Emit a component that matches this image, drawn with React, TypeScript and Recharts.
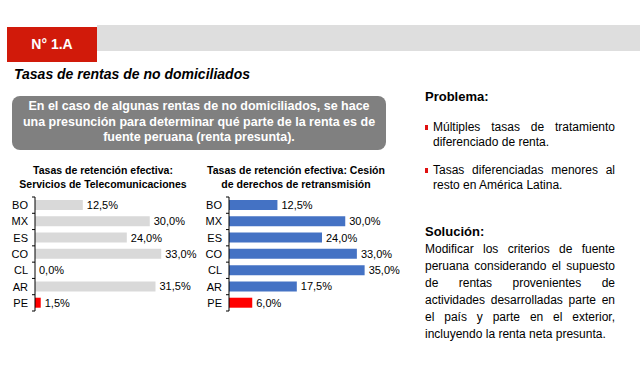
import { BarChart, Bar, XAxis, YAxis, Cell, LabelList } from "recharts";

const countries = ["BO", "MX", "ES", "CO", "CL", "AR", "PE"];
const telecomRates = [12.5, 30.0, 24.0, 33.0, 0.0, 31.5, 1.5];
const retransRates = [12.5, 30.0, 24.0, 33.0, 35.0, 17.5, 6.0];

const telecomData = countries.map((c, i) => ({ pais: c, tasa: telecomRates[i] }));
const retransData = countries.map((c, i) => ({ pais: c, tasa: retransRates[i] }));

const FONT = "'Liberation Sans', Arial, sans-serif";
const ROWS = countries.length;
const PLOT_H = 114;
const BAND = PLOT_H / ROWS;

function pct(v: any) {
  return Number(v).toFixed(1).replace(".", ",") + "%";
}

function CountryTick(props: any) {
  const { x, y, payload, index } = props;
  const ax = x + 7;
  return (
    <g>
      <text x={x} y={y} dy={4} textAnchor="end" fontSize={11} fill="#000" fontFamily={FONT}>
        {payload.value}
      </text>
      <line x1={ax - 3} x2={ax} y1={y - BAND / 2} y2={y - BAND / 2} stroke="#000" />
      {index === ROWS - 1 && (
        <line x1={ax - 3} x2={ax} y1={y + BAND / 2} y2={y + BAND / 2} stroke="#000" />
      )}
    </g>
  );
}

function ValueLabel(props: any) {
  const { x, y, width, height, value } = props;
  return (
    <text
      x={Number(x) + Number(width || 0) + 4}
      y={Number(y) + Number(height) / 2}
      dy={4}
      fontSize={11}
      fill="#000"
      fontFamily={FONT}
    >
      {pct(value)}
    </text>
  );
}

function RateChart({ data, color, axisW, rightM }: any) {
  return (
    <BarChart
      width={210}
      height={124}
      data={data}
      layout="vertical"
      margin={{ top: 6, right: rightM, bottom: 4, left: 0 }}
    >
      <XAxis type="number" domain={[0, 40]} hide />
      <YAxis
        type="category"
        dataKey="pais"
        width={axisW}
        axisLine={{ stroke: "#000" }}
        tickLine={false}
        tickSize={0}
        tickMargin={7}
        tick={<CountryTick />}
        interval={0}
      />
      <Bar dataKey="tasa" barSize={10} minPointSize={0.01} isAnimationActive={false}>
        {data.map((d: any) => (
          <Cell key={d.pais} fill={d.pais === "PE" ? "#ff0000" : color} />
        ))}
        <LabelList dataKey="tasa" content={<ValueLabel />} />
      </Bar>
    </BarChart>
  );
}

function JLine({ children, last }: any) {
  return (
    <div
      style={{
        whiteSpace: "nowrap",
        textAlign: last ? "left" : "justify",
        textAlignLast: last ? "left" : "justify",
      } as any}
    >
      {children}
    </div>
  );
}

export default function App() {
  return (
    <div
      style={{
        position: "absolute",
        left: 0,
        top: 0,
        width: 640,
        height: 368,
        background: "#fff",
        overflow: "hidden",
        fontFamily: FONT,
        color: "#000",
      }}
    >
      <div style={{ position: "absolute", left: 97, top: 25, width: 543, height: 26, background: "#dedede" }} />
      <div
        style={{
          position: "absolute",
          left: 7,
          top: 27,
          width: 90,
          height: 35,
          background: "#d11a0a",
          color: "#fff",
          fontWeight: "bold",
          fontSize: 14,
          lineHeight: "35px",
          textAlign: "center",
        }}
      >
        N° 1.A
      </div>
      <div style={{ position: "absolute", left: 14, top: 66, fontSize: 14, fontWeight: "bold", fontStyle: "italic" }}>
        Tasas de rentas de no domiciliados
      </div>
      <div
        style={{
          position: "absolute",
          left: 12,
          top: 96,
          width: 374,
          height: 54,
          background: "#808080",
          borderRadius: 8,
          color: "#fff",
          fontWeight: "bold",
          fontSize: 12.5,
          lineHeight: "15.5px",
          textAlign: "center",
          paddingTop: 3,
          boxSizing: "border-box",
        }}
      >
        En el caso de algunas rentas de no domiciliados, se hace
        <br />
        una presunción para determinar qué parte de la renta es de
        <br />
        fuente peruana (renta presunta).
      </div>

      <div
        style={{
          position: "absolute",
          left: 8,
          top: 163,
          width: 190,
          fontSize: 10.5,
          fontWeight: "bold",
          lineHeight: "14px",
          textAlign: "center",
        }}
      >
        Tasas de retención efectiva:
        <br />
        Servicios de Telecomunicaciones
      </div>
      <div
        style={{
          position: "absolute",
          left: 200,
          top: 163,
          width: 192,
          fontSize: 10.5,
          fontWeight: "bold",
          lineHeight: "14px",
          textAlign: "center",
        }}
      >
        Tasas de retención efectiva: Cesión
        <br />
        de derechos de retransmisión
      </div>

      <div style={{ position: "absolute", left: 0, top: 191 }}>
        <RateChart data={telecomData} color="#d9d9d9" axisW={35} rightM={22} />
      </div>
      <div style={{ position: "absolute", left: 190, top: 191 }}>
        <RateChart data={retransData} color="#4472c4" axisW={39} rightM={16} />
      </div>

      <div style={{ position: "absolute", left: 425, top: 89, fontSize: 13, fontWeight: "bold" }}>Problema:</div>
      <div style={{ position: "absolute", left: 425, top: 120, width: 190, fontSize: 12, lineHeight: "15px" }}>
        <span style={{ position: "absolute", left: 0, top: 5, width: 3, height: 5, background: "#e01010" }} />
        <div style={{ marginLeft: 8 }}>
          <JLine>Múltiples tasas de tratamiento</JLine>
          <JLine last>diferenciado de renta.</JLine>
        </div>
      </div>
      <div style={{ position: "absolute", left: 425, top: 163, width: 190, fontSize: 12, lineHeight: "15px" }}>
        <span style={{ position: "absolute", left: 0, top: 5, width: 3, height: 5, background: "#e01010" }} />
        <div style={{ marginLeft: 8 }}>
          <JLine>Tasas diferenciadas menores al</JLine>
          <JLine last>resto en América Latina.</JLine>
        </div>
      </div>

      <div style={{ position: "absolute", left: 425, top: 224, fontSize: 13, fontWeight: "bold" }}>Solución:</div>
      <div style={{ position: "absolute", left: 425, top: 241, width: 190, fontSize: 12, lineHeight: "17px" }}>
        <JLine>Modificar los criterios de fuente</JLine>
        <JLine>peruana considerando el supuesto</JLine>
        <JLine>de rentas provenientes de</JLine>
        <JLine>actividades desarrolladas parte en</JLine>
        <JLine>el país y parte en el exterior,</JLine>
        <JLine last>incluyendo la renta neta presunta.</JLine>
      </div>
    </div>
  );
}
